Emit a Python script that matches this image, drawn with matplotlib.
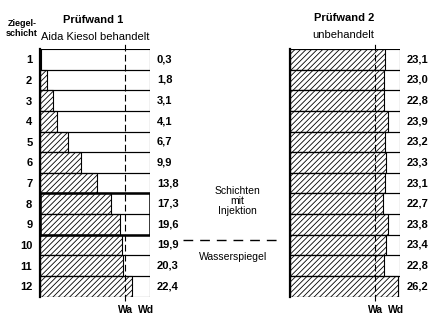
import matplotlib
matplotlib.use("agg")
import matplotlib.pyplot as plt
from matplotlib.patches import Rectangle
import matplotlib.transforms as mtransforms

plt.rcParams['font.family'] = ['Liberation Sans', 'DejaVu Sans']
plt.rcParams['hatch.linewidth'] = 0.6

# data
rows = list(range(1, 13))
wand1 = [0.3, 1.8, 3.1, 4.1, 6.7, 9.9, 13.8, 17.3, 19.6, 19.9, 20.3, 22.4]
wand2 = [23.1, 23.0, 22.8, 23.9, 23.2, 23.3, 23.1, 22.7, 23.8, 23.4, 22.8, 26.2]
wand1_labels = ["0,3", "1,8", "3,1", "4,1", "6,7", "9,9", "13,8", "17,3", "19,6", "19,9", "20,3", "22,4"]
wand2_labels = ["23,1", "23,0", "22,8", "23,9", "23,2", "23,3", "23,1", "22,7", "23,8", "23,4", "22,8", "26,2"]
inj_rows = [8, 9]
water_level = 9.75
WA = 20.8
WD = 26.8

W, H = 432, 316
fig = plt.figure(figsize=(W / 100, H / 100), dpi=100)

def px_axes(x0, y0, x1, y1):
    return fig.add_axes([x0 / W, 1 - y1 / H, (x1 - x0) / W, (y1 - y0) / H])

ax1 = px_axes(40, 49, 150, 296.5)
ax2 = px_axes(290, 49, 400, 296.5)

def panel(ax, vals, labels, show_rows):
    ax.barh(rows, vals, height=1, left=0, color='white', edgecolor='black',
            hatch='//////', linewidth=0.8, zorder=2)
    ax.barh(rows, [WD] * len(rows), height=1, left=0, fill=False,
            edgecolor='black', linewidth=0.8, zorder=3)
    ax.set_xlim(0, WD)
    ax.set_ylim(12.5, 0.5)
    for s in ['top', 'right', 'bottom']:
        ax.spines[s].set_visible(False)
    ax.spines['left'].set_linewidth(1.6)
    ax.spines['left'].set_zorder(5)
    ax.set_xticks([])
    ax.set_yticks(rows)
    if show_rows:
        ax.set_yticklabels([str(r) for r in rows], fontsize=8, fontweight='bold')
    else:
        ax.set_yticklabels([])
    ax.tick_params(axis='y', length=0, pad=5.5)
    for r, lab in zip(rows, labels):
        ax.annotate(lab, (WD, r), xytext=(5, 0), textcoords='offset points',
                    ha='left', va='center', fontsize=8, fontweight='bold')
    ax.axvline(WA, ymin=-0.02, ymax=1.025, color='black', lw=0.8,
               ls=(0, (6, 3)), clip_on=False, zorder=4)
    ax.annotate("Wa", (WA, 12.5), xytext=(0, -10), textcoords='offset points',
                ha='center', va='center', fontsize=7.5, fontweight='bold',
                annotation_clip=False)
    ax.annotate("Wd", (WD, 12.5), xytext=(-3, -10), textcoords='offset points',
                ha='center', va='center', fontsize=7.5, fontweight='bold',
                annotation_clip=False)

panel(ax1, wand1, wand1_labels, True)
panel(ax2, wand2, wand2_labels, False)

# injected layers
ax1.add_patch(Rectangle((0, min(inj_rows) - 0.5), WD, len(inj_rows),
                        fill=False, edgecolor='black', linewidth=1.8, zorder=6))

# water level line between panels
tr = mtransforms.blended_transform_factory(fig.transFigure, ax1.transData)
ax1.plot([183 / W, 283 / W], [water_level, water_level], transform=tr,
         color='black', lw=1.0, ls=(0, (7, 5)), clip_on=False)

fig.text(237 / W, 1 - 201 / H, "Schichten\nmit\nInjektion", ha='center', va='center',
         fontsize=7.5, linespacing=0.95)
fig.text(233 / W, 1 - 257 / H, "Wasserspiegel", ha='center', va='center', fontsize=7.5)

# headers
fig.text(22 / W, 1 - 24 / H, "Ziegel-", ha='center', va='center', fontsize=6.5, fontweight='bold')
fig.text(22 / W, 1 - 33 / H, "schicht", ha='center', va='center', fontsize=6.5, fontweight='bold')
fig.text(93 / W, 1 - 20 / H, "Prüfwand 1", ha='center', va='center', fontsize=8, fontweight='bold')
fig.text(95 / W, 1 - 37 / H, "Aida Kiesol behandelt", ha='center', va='center', fontsize=8)
fig.text(344 / W, 1 - 18 / H, "Prüfwand 2", ha='center', va='center', fontsize=8, fontweight='bold')
fig.text(343 / W, 1 - 35 / H, "unbehandelt", ha='center', va='center', fontsize=8)

fig.savefig("out.png", dpi=100)
